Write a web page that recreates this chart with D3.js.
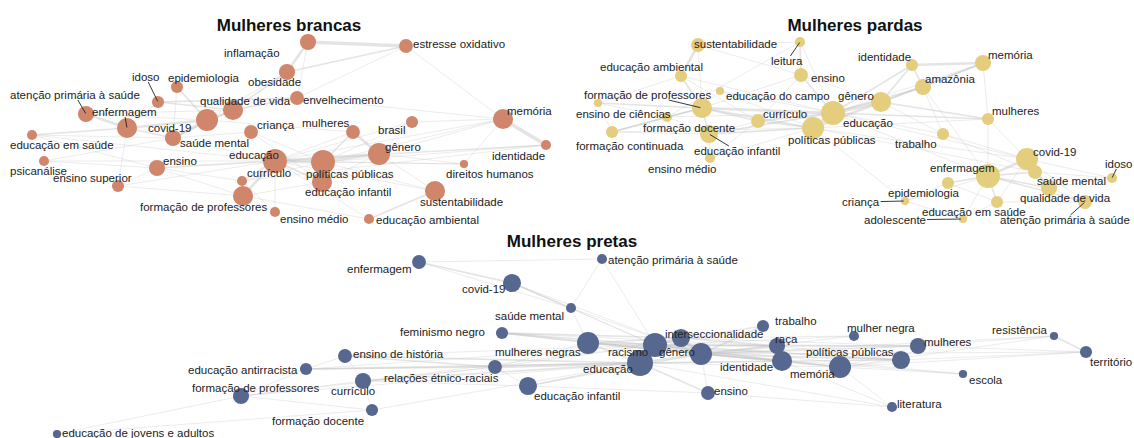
<!DOCTYPE html>
<html>
<head>
<meta charset="utf-8">
<script src="https://cdn.jsdelivr.net/npm/d3@7"></script>
<style>
  body { margin: 0; background: #fff; }
  svg { display: block; font-family: "Liberation Sans", Arial, sans-serif; }
  .lbl { font-size: 11.5px; fill: #222; }
  .ttl { font-size: 17px; font-weight: bold; fill: #111; }
</style>
</head>
<body>
<div id="chart"></div>
<script>
// nodes: [term, layout x, layout y, frequency]
var brancasNodes = [
	["inflamação", 308, 42, 23], ["estresse oxidativo", 406, 46, 17], ["obesidade", 287, 72, 23],
	["idoso", 158, 102, 13], ["epidemiologia", 177, 87, 13], ["atenção primária à saúde", 86, 114, 23],
	["enfermagem", 127, 128, 36], ["qualidade de vida", 233, 110, 36], ["covid-19", 207, 120, 43],
	["saúde mental", 173, 138, 23], ["criança", 251, 132, 17], ["educação em saúde", 32, 135, 9],
	["psicanálise", 44, 161, 9], ["ensino superior", 118, 186, 13], ["ensino", 157, 168, 23],
	["educação", 275, 161, 51], ["currículo", 242, 181, 9], ["formação de professores", 243, 196, 36],
	["ensino médio", 275, 212, 9], ["envelhecimento", 297, 98, 17], ["mulheres", 353, 132, 17],
	["brasil", 412, 122, 13], ["gênero", 379, 154, 43], ["políticas públicas", 323, 162, 51],
	["educação infantil", 322, 182, 36], ["educação ambiental", 369, 219, 9], ["sustentabilidade", 435, 191, 36],
	["direitos humanos", 464, 164, 6], ["memória", 503, 119, 36], ["identidade", 546, 145, 9]
];
var brancasEdges = [
	["inflamação","estresse oxidativo",4], ["inflamação","obesidade",3], ["obesidade","estresse oxidativo",2],
	["estresse oxidativo","memória",1], ["estresse oxidativo","envelhecimento",1], ["inflamação","envelhecimento",1],
	["obesidade","qualidade de vida",2], ["obesidade","covid-19",1], ["envelhecimento","idoso",2],
	["envelhecimento","qualidade de vida",2], ["idoso","qualidade de vida",2], ["idoso","enfermagem",1],
	["epidemiologia","covid-19",2], ["epidemiologia","saúde mental",1], ["atenção primária à saúde","enfermagem",3],
	["atenção primária à saúde","covid-19",1], ["atenção primária à saúde","qualidade de vida",1], ["enfermagem","covid-19",3],
	["enfermagem","saúde mental",2], ["enfermagem","educação em saúde",2], ["enfermagem","ensino superior",1],
	["covid-19","saúde mental",3], ["covid-19","qualidade de vida",2], ["qualidade de vida","saúde mental",2],
	["criança","educação infantil",1], ["criança","saúde mental",1], ["criança","políticas públicas",1],
	["educação em saúde","educação",1], ["educação em saúde","saúde mental",1], ["educação em saúde","ensino",1],
	["psicanálise","educação",1], ["psicanálise","saúde mental",1], ["psicanálise","ensino",1],
	["ensino superior","ensino",1], ["ensino superior","educação",1], ["ensino superior","formação de professores",1],
	["ensino","educação",2], ["ensino","formação de professores",1], ["ensino","currículo",1],
	["educação","políticas públicas",4], ["educação","currículo",2], ["educação","formação de professores",3],
	["educação","educação infantil",2], ["educação","gênero",3], ["educação","mulheres",1], ["educação","ensino médio",1],
	["políticas públicas","gênero",3], ["políticas públicas","educação infantil",2], ["políticas públicas","mulheres",2],
	["políticas públicas","sustentabilidade",1], ["políticas públicas","direitos humanos",1], ["políticas públicas","memória",1],
	["políticas públicas","identidade",1], ["gênero","mulheres",3], ["gênero","brasil",1], ["gênero","memória",1],
	["gênero","identidade",1], ["gênero","direitos humanos",1], ["gênero","educação infantil",1],
	["memória","identidade",4], ["memória","educação",1], ["memória","brasil",1], ["memória","envelhecimento",1],
	["memória","direitos humanos",1], ["sustentabilidade","educação ambiental",2], ["sustentabilidade","educação",1],
	["sustentabilidade","gênero",1], ["educação ambiental","educação",1], ["educação ambiental","formação de professores",1],
	["formação de professores","currículo",2], ["formação de professores","ensino médio",1], ["formação de professores","educação infantil",1],
	["currículo","ensino médio",1], ["currículo","políticas públicas",1], ["identidade","educação",1], ["identidade","currículo",1],
	["brasil","políticas públicas",1], ["brasil","educação",1], ["direitos humanos","educação",1],
	["mulheres","covid-19",1], ["saúde mental","educação",1]
];

var pardasNodes = [
	["sustentabilidade", 128, 45, 17], ["leitura", 230, 42, 9], ["educação ambiental", 111, 76, 13],
	["ensino", 231, 75, 17], ["educação do campo", 150, 91, 6], ["formação de professores", 132, 108, 36],
	["ensino de ciências", 28, 103, 6], ["formação docente", 97, 117, 9], ["formação continuada", 42, 132, 13],
	["educação infantil", 139, 134, 29], ["ensino médio", 140, 158, 9], ["currículo", 188, 121, 17],
	["educação", 263, 113, 51], ["políticas públicas", 243, 128, 43], ["gênero", 311, 102, 36],
	["identidade", 342, 65, 13], ["memória", 413, 63, 23], ["amazônia", 353, 87, 23],
	["mulheres", 418, 119, 13], ["trabalho", 373, 134, 13], ["covid-19", 457, 159, 43],
	["enfermagem", 418, 176, 51], ["epidemiologia", 378, 183, 13], ["criança", 335, 201, 6],
	["saúde mental", 465, 172, 17], ["qualidade de vida", 479, 188, 23], ["atenção primária à saúde", 515, 202, 17],
	["idoso", 542, 178, 9], ["educação em saúde", 427, 202, 13], ["adolescente", 393, 219, 6]
];
var pardasEdges = [
	["sustentabilidade","educação ambiental",3], ["sustentabilidade","leitura",1], ["sustentabilidade","formação de professores",1],
	["sustentabilidade","ensino",1], ["leitura","ensino",2], ["leitura","educação",1], ["leitura","formação docente",1],
	["educação ambiental","formação de professores",2], ["educação ambiental","educação",1], ["educação ambiental","ensino de ciências",1],
	["educação ambiental","currículo",1], ["ensino","educação",2], ["ensino","formação de professores",1], ["ensino","gênero",1],
	["ensino","currículo",1], ["educação do campo","educação",1], ["educação do campo","formação de professores",1],
	["educação do campo","políticas públicas",1], ["formação de professores","ensino de ciências",2],
	["formação de professores","formação continuada",2], ["formação de professores","formação docente",2],
	["formação de professores","educação infantil",2], ["formação de professores","currículo",2],
	["formação de professores","educação",3], ["formação de professores","políticas públicas",2],
	["ensino de ciências","formação continuada",1], ["ensino de ciências","formação docente",1],
	["formação continuada","formação docente",2], ["formação continuada","educação infantil",1], ["formação continuada","políticas públicas",1],
	["formação docente","educação infantil",1], ["formação docente","educação",1], ["educação infantil","ensino médio",1],
	["educação infantil","políticas públicas",2], ["educação infantil","educação",2], ["educação infantil","currículo",1],
	["ensino médio","políticas públicas",1], ["ensino médio","currículo",1], ["currículo","educação",2], ["currículo","políticas públicas",2],
	["educação","políticas públicas",4], ["educação","gênero",4], ["políticas públicas","gênero",3],
	["gênero","identidade",2], ["gênero","amazônia",2], ["gênero","memória",2], ["gênero","mulheres",2], ["gênero","trabalho",1],
	["educação","identidade",2], ["educação","amazônia",2], ["educação","memória",1], ["educação","mulheres",2],
	["educação","trabalho",1], ["educação","enfermagem",1], ["educação","covid-19",1], ["políticas públicas","mulheres",1],
	["políticas públicas","covid-19",1], ["políticas públicas","criança",1], ["políticas públicas","saúde mental",1],
	["identidade","memória",3], ["identidade","amazônia",2], ["amazônia","memória",2], ["memória","mulheres",1],
	["amazônia","trabalho",1], ["amazônia","enfermagem",1], ["mulheres","enfermagem",1], ["mulheres","covid-19",1],
	["trabalho","covid-19",1], ["trabalho","saúde mental",1], ["covid-19","enfermagem",3], ["covid-19","saúde mental",3],
	["covid-19","qualidade de vida",2], ["covid-19","idoso",1], ["covid-19","atenção primária à saúde",1], ["covid-19","educação em saúde",1],
	["enfermagem","epidemiologia",2], ["enfermagem","educação em saúde",2], ["enfermagem","saúde mental",2],
	["enfermagem","qualidade de vida",2], ["enfermagem","atenção primária à saúde",2], ["enfermagem","adolescente",1],
	["enfermagem","criança",1], ["saúde mental","qualidade de vida",2], ["saúde mental","idoso",1],
	["qualidade de vida","atenção primária à saúde",1], ["qualidade de vida","idoso",1], ["epidemiologia","criança",1],
	["epidemiologia","educação em saúde",1], ["educação em saúde","adolescente",1], ["educação em saúde","atenção primária à saúde",1],
	["adolescente","criança",1]
];

var pretasNodes = [
	["enfermagem", 419, 32, 17], ["atenção primária à saúde", 602, 29, 9], ["covid-19", 512, 53, 29],
	["saúde mental", 571, 78, 9], ["feminismo negro", 502, 103, 13], ["mulheres negras", 588, 113, 43],
	["racismo", 655, 115, 51], ["educação", 640, 133, 60], ["interseccionalidade", 681, 108, 29],
	["gênero", 701, 124, 43], ["relações étnico-raciais", 495, 137, 17], ["educação infantil", 528, 156, 29],
	["ensino", 708, 163, 17], ["ensino de história", 345, 126, 17], ["educação antirracista", 306, 139, 13],
	["currículo", 363, 151, 23], ["formação de professores", 241, 166, 23], ["formação docente", 372, 180, 13],
	["educação de jovens e adultos", 57, 204, 6], ["trabalho", 763, 96, 13], ["raça", 777, 116, 23],
	["identidade", 782, 131, 36], ["memória", 840, 137, 43], ["mulher negra", 854, 106, 9],
	["políticas públicas", 901, 130, 29], ["mulheres", 918, 116, 23], ["escola", 963, 144, 6],
	["literatura", 892, 177, 9], ["resistência", 1054, 106, 6], ["território", 1086, 122, 13]
];
var pretasEdges = [
	["enfermagem","atenção primária à saúde",1], ["enfermagem","covid-19",2], ["enfermagem","saúde mental",1],
	["covid-19","saúde mental",2], ["covid-19","racismo",1], ["covid-19","gênero",1],
	["atenção primária à saúde","saúde mental",1], ["atenção primária à saúde","racismo",1],
	["saúde mental","racismo",1], ["saúde mental","gênero",1], ["saúde mental","mulheres negras",1],
	["feminismo negro","racismo",2], ["feminismo negro","interseccionalidade",2], ["feminismo negro","gênero",2],
	["feminismo negro","mulheres negras",1], ["feminismo negro","raça",1],
	["mulheres negras","racismo",3], ["mulheres negras","educação",2], ["mulheres negras","gênero",2],
	["mulheres negras","interseccionalidade",2], ["mulheres negras","políticas públicas",1],
	["mulheres negras","relações étnico-raciais",1], ["mulheres negras","identidade",1],
	["racismo","educação",4], ["racismo","gênero",4], ["racismo","interseccionalidade",3], ["racismo","raça",2],
	["racismo","identidade",2], ["racismo","políticas públicas",2], ["racismo","mulheres",2], ["racismo","memória",1],
	["racismo","trabalho",1], ["racismo","mulher negra",1], ["racismo","escola",1],
	["educação","gênero",3], ["educação","relações étnico-raciais",3], ["educação","educação infantil",2],
	["educação","ensino",2], ["educação","currículo",2], ["educação","ensino de história",2],
	["educação","educação antirracista",2], ["educação","formação de professores",1], ["educação","identidade",2],
	["educação","memória",1], ["educação","literatura",1], ["educação","políticas públicas",1],
	["gênero","interseccionalidade",3], ["gênero","raça",3], ["gênero","identidade",2], ["gênero","trabalho",2],
	["gênero","memória",2], ["gênero","políticas públicas",2], ["gênero","mulheres",2], ["gênero","mulher negra",1],
	["gênero","território",1], ["gênero","resistência",1], ["gênero","escola",1],
	["interseccionalidade","raça",2], ["interseccionalidade","trabalho",1], ["interseccionalidade","mulher negra",1],
	["interseccionalidade","mulheres",1], ["raça","identidade",2], ["raça","políticas públicas",1], ["raça","mulheres",1],
	["identidade","memória",2], ["identidade","políticas públicas",1], ["identidade","literatura",1],
	["memória","políticas públicas",1], ["memória","literatura",1], ["memória","mulheres",1], ["memória","território",1],
	["memória","resistência",1], ["memória","escola",1], ["políticas públicas","mulheres",1], ["políticas públicas","território",1],
	["mulheres","território",1], ["mulheres","resistência",1], ["resistência","território",2],
	["relações étnico-raciais","ensino de história",2], ["relações étnico-raciais","educação antirracista",2],
	["relações étnico-raciais","currículo",1], ["relações étnico-raciais","educação infantil",1],
	["relações étnico-raciais","formação de professores",1], ["relações étnico-raciais","racismo",1],
	["educação infantil","currículo",1], ["educação infantil","ensino",1], ["educação infantil","gênero",1],
	["ensino","literatura",1], ["ensino","gênero",1], ["ensino de história","educação antirracista",1],
	["ensino de história","currículo",1], ["ensino de história","racismo",1], ["educação antirracista","racismo",1],
	["educação antirracista","formação de professores",1], ["currículo","formação de professores",1],
	["currículo","formação docente",1], ["currículo","racismo",1], ["formação de professores","formação docente",1],
	["formação de professores","educação de jovens e adultos",1], ["formação docente","educação de jovens e adultos",1],
	["formação docente","educação",1]
];

// label placement (repelled): [dx, dy, leader line]
var brancasLabels = {
	"inflamação": [-84, 11], "estresse oxidativo": [7, -2], "obesidade": [-39, 10], "idoso": [-26, -25, 1],
	"epidemiologia": [-9, -9], "atenção primária à saúde": [-76, -19, 1], "enfermagem": [-35, -16, 1],
	"qualidade de vida": [-33, -9], "covid-19": [-59, 8], "saúde mental": [7, 5], "criança": [6, -7],
	"educação em saúde": [-22, 10], "psicanálise": [-34, 10], "ensino superior": [-65, -8], "ensino": [6, -7],
	"educação": [-46, -6], "currículo": [5, -8], "formação de professores": [-103, 11], "ensino médio": [5, 7],
	"envelhecimento": [6, 2], "mulheres": [-51, -9], "brasil": [-34, 8], "gênero": [6, -7],
	"políticas públicas": [-17, 12], "educação infantil": [-17, 10], "educação ambiental": [7, 1],
	"sustentabilidade": [-15, 11], "direitos humanos": [-18, 10], "memória": [4, -8], "identidade": [-54, 11]
};
var pardasLabels = {
	"sustentabilidade": [-4, -1], "leitura": [-29, 19, 1], "educação ambiental": [-81, -9], "ensino": [10, 3],
	"educação do campo": [6, 5], "formação de professores": [-118, -13, 1], "ensino de ciências": [-22, 11],
	"formação docente": [-24, 11], "formação continuada": [-36, 14], "educação infantil": [-15, 17, 1],
	"ensino médio": [-62, 11], "currículo": [5, -7], "educação": [10, 10], "políticas públicas": [-25, 12],
	"gênero": [-43, -6], "identidade": [-54, -8], "memória": [5, -8], "amazônia": [2, -8], "mulheres": [4, -8],
	"trabalho": [-48, 10], "covid-19": [6, -7], "enfermagem": [-58, -8], "epidemiologia": [-60, 10],
	"criança": [-63, 1, 1], "saúde mental": [2, 9], "qualidade de vida": [-29, 10],
	"atenção primária à saúde": [-85, 18, 1], "idoso": [-7, -14, 1], "educação em saúde": [-75, 10],
	"adolescente": [-99, 1, 1]
};
var pretasLabels = {
	"enfermagem": [-72, 7], "atenção primária à saúde": [6, 1], "covid-19": [-50, 6], "saúde mental": [-76, 8],
	"feminismo negro": [-102, -1], "mulheres negras": [-93, 9], "racismo": [-47, 7], "educação": [-57, 6],
	"interseccionalidade": [-16, -4], "gênero": [-42, -2], "relações étnico-raciais": [-111, 11],
	"educação infantil": [6, 10], "ensino": [6, -2], "ensino de história": [8, -2],
	"educação antirracista": [-118, 1], "currículo": [-32, 10], "formação de professores": [-49, -8],
	"formação docente": [-100, 11], "educação de jovens e adultos": [5, -1], "trabalho": [12, -5],
	"raça": [-2, -7], "identidade": [-62, 6], "memória": [-50, 7], "mulher negra": [-7, -8],
	"políticas públicas": [-95, -8], "mulheres": [6, -4], "escola": [6, 6], "literatura": [5, -3],
	"resistência": [-62, -6], "território": [4, 10]
};

var panels = [
	{ title: "Mulheres brancas", nodes: brancasNodes, edges: brancasEdges, labels: brancasLabels,
	  color: "#d0866b", ox: 0, oy: 0, w: 570, h: 230, tx: 289, ty: 31 },
	{ title: "Mulheres pardas", nodes: pardasNodes, edges: pardasEdges, labels: pardasLabels,
	  color: "#e5cd7e", ox: 570, oy: 0, w: 564, h: 230, tx: 285, ty: 31 },
	{ title: "Mulheres pretas", nodes: pretasNodes, edges: pretasEdges, labels: pretasLabels,
	  color: "#56688f", ox: 0, oy: 230, w: 1134, h: 208, tx: 572, ty: 17 }
];

var width = 1134, height = 438;

var svg = d3.select("#chart").append("svg")
	.attr("width", width)
	.attr("height", height);

svg.append("rect").attr("width", width).attr("height", height).attr("fill", "#fff");

var radius = d3.scaleSqrt().domain([0, 60]).range([0, 13]);
var edgeWidth = d3.scaleLinear().domain([1, 4]).range([0.7, 3.6]);

panels.forEach(function(p) {
	var x = d3.scaleLinear().domain([0, p.w]).range([p.ox, p.ox + p.w]);
	var y = d3.scaleLinear().domain([0, p.h]).range([p.oy, p.oy + p.h]);

	var nodes = p.nodes.map(function(d) {
		return { name: d[0], x: x(d[1]), y: y(d[2]), n: d[3] };
	});
	var byName = {};
	nodes.forEach(function(d) { byName[d.name] = d; });
	var links = p.edges.map(function(e) {
		return { source: byName[e[0]], target: byName[e[1]], w: e[2] };
	});

	var g = svg.append("g").attr("class", "panel");

	g.append("g")
		.selectAll("line")
		.data(links)
		.enter().append("line")
		.attr("x1", function(d) { return d.source.x; })
		.attr("y1", function(d) { return d.source.y; })
		.attr("x2", function(d) { return d.target.x; })
		.attr("y2", function(d) { return d.target.y; })
		.attr("stroke", "#c4c4c4")
		.attr("stroke-opacity", 0.45)
		.attr("stroke-width", function(d) { return edgeWidth(d.w); });

	g.append("g")
		.selectAll("circle")
		.data(nodes)
		.enter().append("circle")
		.attr("cx", function(d) { return d.x; })
		.attr("cy", function(d) { return d.y; })
		.attr("r", function(d) { return radius(d.n); })
		.attr("fill", p.color);

	var leaders = g.append("g");

	var text = g.append("g")
		.selectAll("text")
		.data(nodes)
		.enter().append("text")
		.attr("class", "lbl")
		.attr("x", function(d) { return d.x + p.labels[d.name][0]; })
		.attr("y", function(d) { return d.y + p.labels[d.name][1]; })
		.attr("dominant-baseline", "central")
		.text(function(d) { return d.name; });

	// segment from where the label box meets the line label-centre -> node
	text.each(function(d) {
		if (!p.labels[d.name][2]) return;
		var b = this.getBBox();
		var cx = b.x + b.width / 2, cy = b.y + b.height / 2;
		var dx = d.x - cx, dy = d.y - cy;
		var hw = b.width / 2 + 1, hh = b.height / 2 - 1;
		var t = Math.min(dx ? hw / Math.abs(dx) : Infinity, dy ? hh / Math.abs(dy) : Infinity);
		if (t >= 1) return;
		leaders.append("line")
			.attr("x1", cx + dx * t).attr("y1", cy + dy * t)
			.attr("x2", d.x - dx * 0.03).attr("y2", d.y - dy * 0.03)
			.attr("stroke", "#222")
			.attr("stroke-width", 0.9);
	});

	g.append("text")
		.attr("class", "ttl")
		.attr("x", p.ox + p.tx)
		.attr("y", p.oy + p.ty)
		.attr("text-anchor", "middle")
		.text(p.title);
});
</script>
</body>
</html>
